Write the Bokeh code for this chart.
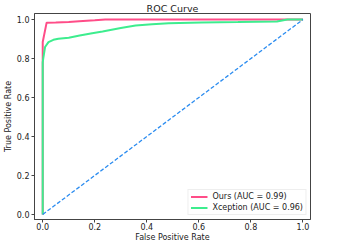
from bokeh.plotting import figure
from bokeh.models import Range1d, Legend, LegendItem, FixedTicker, PrintfTickFormatter
from bokeh.embed import file_html
from bokeh.resources import INLINE

# Data
ours_fpr = [0.0, 0.0, 0.0, 0.015, 0.05, 0.10, 0.14, 0.20, 0.24, 0.40, 0.60, 0.80, 1.0]
ours_tpr = [0.0, 0.80, 0.885, 0.984, 0.985, 0.987, 0.991, 0.996, 1.0, 1.0, 1.0, 1.0, 1.0]
xcep_fpr = [0.0, 0.0, 0.002, 0.009, 0.022, 0.041, 0.06, 0.10, 0.142, 0.19, 0.23, 0.30, 0.357,
            0.42, 0.484, 0.61, 0.75, 0.90, 0.94, 1.0]
xcep_tpr = [0.0, 0.78, 0.80, 0.859, 0.884, 0.896, 0.901, 0.907, 0.918, 0.93, 0.939, 0.957, 0.969,
            0.976, 0.981, 0.985, 0.987, 0.99, 1.0, 1.0]
diag_x = [0.0, 1.0]
diag_y = [0.0, 1.0]
ticks = [0.0, 0.2, 0.4, 0.6, 0.8, 1.0]
labels = ["Ours (AUC = 0.99)", "Xception (AUC = 0.96)"]
title_text = "ROC Curve"
xlabel = "False Positive Rate"
ylabel = "True Positive Rate"

FONT = "DejaVu Sans"
TXT = "#222222"

p = figure(width=341, height=244, output_backend="svg", toolbar_location=None,
           x_range=Range1d(-0.0316, 1.029), y_range=Range1d(-0.026, 1.031),
           min_border_left=31, min_border_right=31, min_border_top=13, min_border_bottom=24,
           title=title_text)
p.title.align = "center"
p.title.text_font = FONT
p.title.text_font_size = "9.5px"
p.title.text_font_style = "normal"
p.title.text_color = TXT
p.title.standoff = 0
p.title.offset = 0

p.grid.visible = False
p.outline_line_color = "#444444"
p.outline_line_width = 1

for ax in (p.xaxis, p.yaxis):
    ax.ticker = FixedTicker(ticks=ticks)
    ax.formatter = PrintfTickFormatter(format="%.1f")
    ax.axis_line_color = "#444444"
    ax.major_tick_line_color = "#444444"
    ax.minor_tick_line_color = None
    ax.major_tick_in = 0
    ax.major_tick_out = 3
    ax.major_label_text_font = FONT
    ax.major_label_text_font_size = "8px"
    ax.major_label_text_color = TXT
    ax.major_label_standoff = 0
    ax.axis_label_text_font = FONT
    ax.axis_label_text_font_size = "8px"
    ax.axis_label_text_font_style = "normal"
    ax.axis_label_text_color = TXT
    ax.axis_label_standoff = 0

p.yaxis.major_label_standoff = 2
p.yaxis.axis_label_standoff = 1
p.xaxis.axis_label = xlabel
p.yaxis.axis_label = ylabel

r1 = p.line(ours_fpr, ours_tpr, line_color="#ff4d88", line_width=2)
r2 = p.line(xcep_fpr, xcep_tpr, line_color="#3ded8e", line_width=2)
p.line(diag_x, diag_y, line_color="#2b8cf0", line_width=1.3, line_dash="4 2")

legend = Legend(items=[LegendItem(label=labels[0], renderers=[r1]),
                       LegendItem(label=labels[1], renderers=[r2])],
                location="bottom_right")
legend.label_text_font = FONT
legend.label_text_font_size = "8px"
legend.label_text_color = TXT
legend.label_height = 9
legend.glyph_height = 9
legend.glyph_width = 17
legend.spacing = 2
legend.padding = 2
legend.margin = 4
legend.label_standoff = 5
legend.border_line_color = "#dddddd"
legend.background_fill_alpha = 0.8
p.add_layout(legend)

open("out.html", "w").write(file_html(p, INLINE))
